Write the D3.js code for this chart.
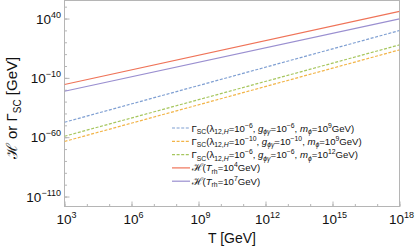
<!DOCTYPE html>
<html><head><meta charset="utf-8">
<script src="https://cdn.jsdelivr.net/npm/d3@7"></script>
<style>
html,body{margin:0;padding:0;background:#fff;}
svg{display:block;font-family:"Liberation Sans",Arial,sans-serif;}
</style></head>
<body>
<svg id="c" width="415" height="246"></svg>
<script>
// Temperature endpoints (log10 T / GeV)
const T_LOG = [3, 18];
// log10 of rates [GeV] at those temperatures
const gammaA = [-47.4, 29.9];   // lambda=1e-6, g=1e-6, m=1e9
const gammaB = [-63.6, 13.6];   // lambda=1e-10, g=1e-10, m=1e9
const gammaC = [-59.2, 17.8];   // lambda=1e-6, g=1e-6, m=1e12
const hubble4 = [-15.6, 46.1];  // T_rh = 1e4
const hubble7 = [-21.3, 39.7];  // T_rh = 1e7
const xTickExp = [3, 6, 9, 12, 15, 18];
const yTickExp = [-110, -60, -10, 40];

const series = [
  {vals: gammaA, color: "#7f9fd2", dash: "3,1.6", label: [["Γ"],["SC","sub"],["(λ"],["12,","sub"],["H","subi"],["=10"],["−6","sup"],[", "],["g","i"],["ϕγ","subi"],["=10"],["−6","sup"],[", "],["m","i"],["ϕ","subi"],["=10"],["9","sup"],["GeV)"]]},
  {vals: gammaB, color: "#f2b448", dash: "3,1.6", label: [["Γ"],["SC","sub"],["(λ"],["12,","sub"],["H","subi"],["=10"],["−10","sup"],[", "],["g","i"],["ϕγ","subi"],["=10"],["−10","sup"],[", "],["m","i"],["ϕ","subi"],["=10"],["9","sup"],["GeV)"]]},
  {vals: gammaC, color: "#a6c65e", dash: "3,1.6", label: [["Γ"],["SC","sub"],["(λ"],["12,","sub"],["H","subi"],["=10"],["−6","sup"],[", "],["g","i"],["ϕγ","subi"],["=10"],["−6","sup"],[", "],["m","i"],["ϕ","subi"],["=10"],["12","sup"],["GeV)"]]},
  {vals: hubble4, color: "#ef7358", dash: null, label: [["ℋ","h"],["("],["T","i"],["rh","sub"],["=10"],["4","sup"],["GeV)"]]},
  {vals: hubble7, color: "#9a8fd0", dash: null, label: [["ℋ","h"],["("],["T","i"],["rh","sub"],["=10"],["7","sup"],["GeV)"]]}
];

const L = 64.5, R = 399.5, TOP = 0.5, BOT = 206.5;
const svg = d3.select("#c");
const x = d3.scaleLog().domain([1e3, 1e18]).range([L, R]);
const y = d3.scaleLog().domain([Math.pow(10,-118.4), Math.pow(10,55.2)]).range([BOT, TOP]);

// frame
svg.append("rect").attr("x", L).attr("y", TOP).attr("width", R-L).attr("height", BOT-TOP)
  .attr("fill", "none").attr("stroke", "#b5b5b5").attr("stroke-width", 1);

// y ticks: major + minor every 10 decades
const minorY = d3.range(-110, 51, 10).map(e => Math.pow(10, e));
const gy = svg.append("g").attr("transform", `translate(${L},0)`);
gy.call(d3.axisRight(y).tickValues(minorY).tickSize(2.5).tickFormat(""));
gy.call(g => g.select(".domain").remove());
gy.append("g").call(d3.axisRight(y).tickValues(yTickExp.map(e=>Math.pow(10,e))).tickSize(5).tickFormat(""))
  .call(g => g.select(".domain").remove());
gy.selectAll("line").attr("stroke", "#b5b5b5");

const gx = svg.append("g").attr("transform", `translate(0,${BOT})`);
gx.call(d3.axisTop(x).tickValues(d3.range(3,19).map(e=>Math.pow(10,e))).tickSize(2.5).tickFormat(""))
  .call(g => g.select(".domain").remove());
gx.append("g").call(d3.axisTop(x).tickValues(xTickExp.map(e=>Math.pow(10,e))).tickSize(5).tickFormat(""))
  .call(g => g.select(".domain").remove());
gx.selectAll("line").attr("stroke", "#b5b5b5");

// tick labels
function pow10(sel, exp){
  sel.append("tspan").text("10");
  sel.append("tspan").attr("dy", -6).attr("font-size", 9).text(exp < 0 ? "−" + (-exp) : String(exp));
}
yTickExp.forEach(e => {
  const t = svg.append("text").attr("x", 61).attr("y", y(Math.pow(10,e)) + 5)
    .attr("text-anchor", "end").attr("font-size", 13.5).attr("fill", "#111");
  pow10(t, e);
});
xTickExp.forEach(e => {
  const t = svg.append("text").attr("x", x(Math.pow(10,e)) + 2).attr("y", 224)
    .attr("text-anchor", "middle").attr("font-size", 13.5).attr("fill", "#111");
  pow10(t, e);
});

// axis titles
svg.append("text").attr("x", 232).attr("y", 243).attr("text-anchor", "middle")
  .attr("font-size", 14).attr("fill", "#111").text("T [GeV]");
const yt = svg.append("text").attr("transform", "translate(17,108) rotate(-90)")
  .attr("text-anchor", "middle").attr("font-size", 15).attr("fill", "#111");
yt.append("tspan").attr("font-family", "DejaVu Serif").text("ℋ");
yt.append("tspan").text(" or Γ");
yt.append("tspan").attr("dy", 3.5).attr("font-size", 10).text("SC");
yt.append("tspan").attr("dy", -3.5).text(" [GeV]");

// lines
const line = d3.line().x(d => x(Math.pow(10, d[0]))).y(d => y(Math.pow(10, d[1])));
svg.append("defs").append("clipPath").attr("id", "clip").append("rect")
  .attr("x", L).attr("y", TOP).attr("width", R-L).attr("height", BOT-TOP);
const gl = svg.append("g").attr("clip-path", "url(#clip)");
series.forEach(s => {
  gl.append("path").datum(T_LOG.map((t,i)=>[t, s.vals[i]]))
    .attr("d", line).attr("fill", "none").attr("stroke", s.color).attr("stroke-width", 1.2)
    .attr("stroke-dasharray", s.dash);
});

// legend
const lx0 = 172, lx1 = 190, ly0 = 128, ldy = 13.3;
series.forEach((s, i) => {
  const yy = ly0 + i*ldy;
  svg.append("line").attr("x1", lx0).attr("x2", lx1).attr("y1", yy).attr("y2", yy)
    .attr("stroke", s.color).attr("stroke-width", 1.2).attr("stroke-dasharray", s.dash);
  const t = svg.append("text").attr("x", lx1 + 1.5).attr("y", yy + 3.5).attr("font-size", 9.6).attr("fill", "#111");
  let shift = 0;
  s.label.forEach(([txt, kind]) => {
    const sp = t.append("tspan").text(txt);
    let target = 0;
    if (kind === "sub" || kind === "subi") { target = 2.5; sp.attr("font-size", 6.8); }
    if (kind === "sup") { target = -4; sp.attr("font-size", 6.8); }
    if (kind === "i" || kind === "subi") sp.attr("font-style", "italic");
    if (kind === "h") sp.attr("font-family", "DejaVu Serif").attr("font-size", 10.5);
    if (target !== shift) { sp.attr("dy", target - shift); shift = target; }
  });
});
</script>
</body></html>
